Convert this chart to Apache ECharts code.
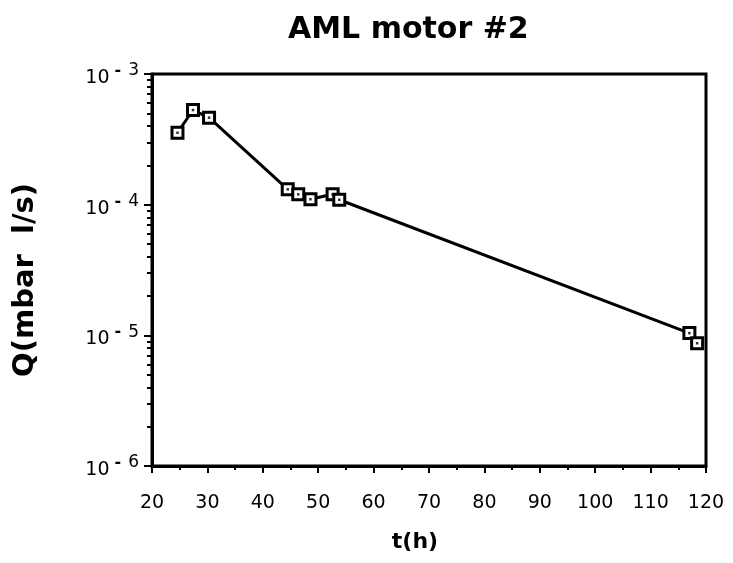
<!DOCTYPE html>
<html>
<head>
<meta charset="utf-8">
<script src="https://cdn.jsdelivr.net/npm/echarts@6/dist/echarts.min.js"></script>
<style>
  html, body { margin: 0; padding: 0; background: #fff; }
  #chart { width: 733px; height: 563px; }
</style>
</head>
<body>
<div id="chart"></div>
<script>
// t(h) and Q(mbar l/s)
const timeHours = [24.6, 27.4, 30.3, 44.5, 46.4, 48.6, 52.6, 53.8, 117.0, 118.4];
const leakRate = [3.55e-4, 5.3e-4, 4.63e-4, 1.31e-4, 1.2e-4, 1.1e-4, 1.2e-4, 1.09e-4, 1.04e-5, 8.7e-6];
const decades = [1e-6, 1e-5, 1e-4, 1e-3];
const minorSteps = [2, 3, 4, 5, 6, 7, 8, 9];

const points = timeHours.map((t, i) => [t, leakRate[i]]);
const minorTicks = [];
decades.slice(0, -1).forEach((d) => minorSteps.forEach((m) => minorTicks.push(m * d)));

const font = "DejaVu Sans";
const chart = echarts.init(document.querySelector("#chart"));

chart.setOption({
  backgroundColor: "#fff",
  animation: false,
  title: {
    text: "AML motor #2",
    left: 283,
    top: 10,
    textStyle: { fontFamily: font, fontSize: 30, fontWeight: "bold", color: "#000" }
  },
  grid: {
    left: 152, right: 27, top: 74, bottom: 97,
    show: true, borderColor: "#000", borderWidth: 3, backgroundColor: "transparent"
  },
  xAxis: {
    type: "value",
    min: 20,
    max: 120,
    interval: 10,
    name: "t(h)",
    nameLocation: "middle",
    nameGap: 65,
    nameTextStyle: { fontFamily: font, fontSize: 22, fontWeight: "bold", color: "#000", padding: [0, 28, 0, 0] },
    axisLine: { lineStyle: { color: "#000", width: 3 } },
    axisTick: { show: true, inside: false, length: 7, lineStyle: { color: "#000", width: 2 } },
    minorTick: { show: true, splitNumber: 2, length: 4, lineStyle: { color: "#000", width: 2 } },
    splitLine: { show: false },
    axisLabel: { fontFamily: font, fontSize: 19, color: "#000", margin: 28 }
  },
  yAxis: [
    {
      type: "log",
      logBase: 10,
      min: 1e-6,
      max: 1e-3,
      position: "left",
      name: "Q(mbar  l/s)",
      nameLocation: "middle",
      nameRotate: 90,
      nameGap: 112,
      nameTextStyle: { fontFamily: font, fontSize: 29, fontWeight: "bold", color: "#000", padding: [0, 0, 0, -20] },
      axisLine: { lineStyle: { color: "#000", width: 3 } },
      axisTick: { show: true, inside: false, length: 8, lineStyle: { color: "#000", width: 2 } },
      splitLine: { show: false },
      axisLabel: {
        margin: 13,
        formatter: (v) => {
          const exp = Math.round(Math.log10(v));
          return `{a|10}{b|-}{c|${Math.abs(exp)}}`;
        },
        rich: {
          a: { fontFamily: font, fontSize: 19, color: "#000", lineHeight: 24, padding: [8, 0, 0, 0] },
          b: { fontFamily: font, fontSize: 16, fontWeight: "bold", color: "#000", lineHeight: 24, padding: [0, 0, 6, 5] },
          c: { fontFamily: font, fontSize: 17, color: "#000", lineHeight: 24, padding: [0, 0, 6, 7] }
        }
      }
    },
    {
      type: "log",
      logBase: 10,
      min: 1e-6,
      max: 1e-3,
      position: "left",
      axisLine: { show: false },
      axisLabel: { show: false },
      splitLine: { show: false },
      axisTick: { show: true, inside: false, length: 5, customValues: minorTicks, lineStyle: { color: "#000", width: 2 } }
    }
  ],
  series: [
    {
      type: "line",
      data: points,
      symbol: "rect",
      symbolSize: 11,
      lineStyle: { color: "#000", width: 3 },
      itemStyle: { color: "#fff", borderColor: "#000", borderWidth: 3 },
      z: 3
    },
    {
      type: "scatter",
      data: points,
      symbol: "rect",
      symbolSize: 2.5,
      itemStyle: { color: "#000" },
      z: 4
    }
  ]
});
</script>
</body>
</html>
